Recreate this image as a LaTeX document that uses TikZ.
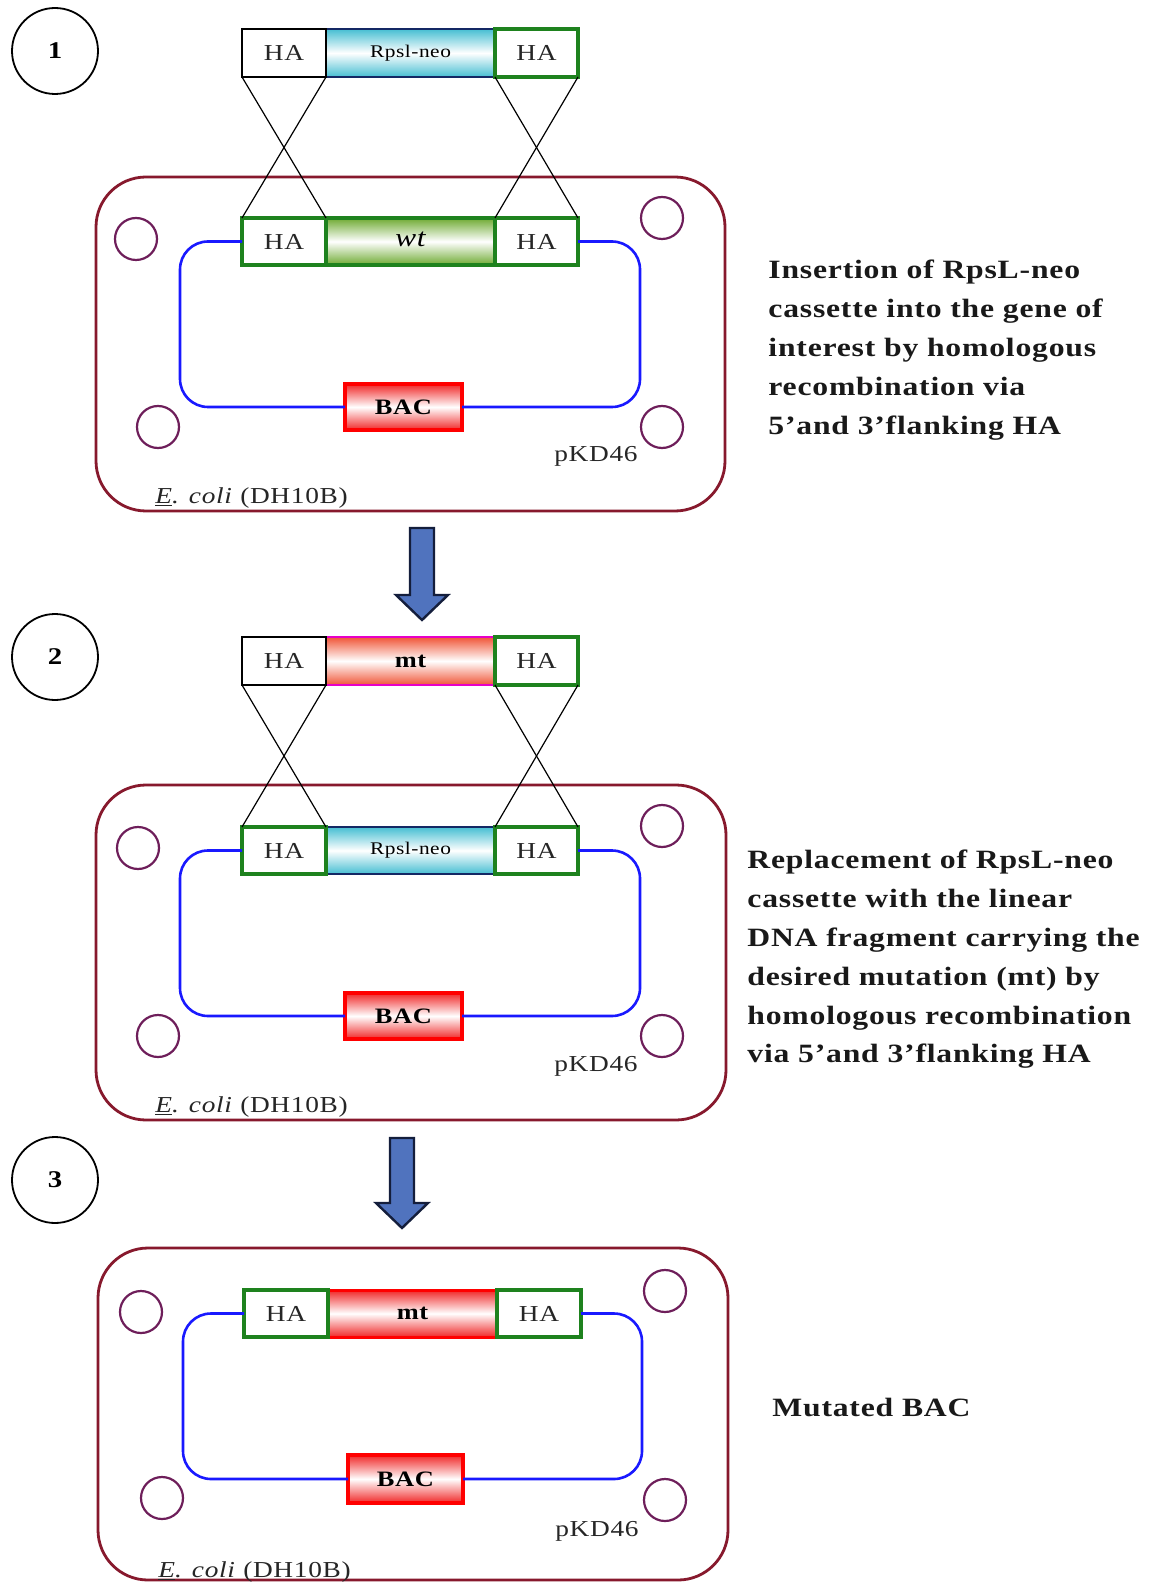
\documentclass[tikz,border=0pt]{standalone}
\usepackage{fontspec}
\setmainfont{Liberation Serif}[FakeStretch=1.2,LetterSpace=3]
\definecolor{cellred}{RGB}{135,25,45}
\definecolor{circpurple}{RGB}{110,30,90}
\definecolor{loopblue}{RGB}{25,25,255}
\definecolor{hagreen}{RGB}{30,130,30}
\definecolor{navyb}{RGB}{20,40,100}
\definecolor{cyanfill}{RGB}{70,190,210}
\definecolor{wtgreen}{RGB}{110,170,50}
\definecolor{mtorange}{RGB}{240,85,55}
\definecolor{mtmag}{RGB}{230,0,200}
\definecolor{bacred}{RGB}{255,0,0}
\definecolor{bacfill}{RGB}{240,40,40}
\definecolor{arrowfill}{RGB}{80,115,190}
\definecolor{arrowdraw}{RGB}{20,30,60}
\newcommand\downblock[4]{%
  \filldraw[blockarrow] (#1-12,#2) -- (#1+12,#2) -- (#1+12,#3) -- (#1+26,#3)
    -- (#1,#4) -- (#1-26,#3) -- (#1-12,#3) -- cycle;}
\tikzset{
  box/.style={inner sep=0pt, outer sep=0pt, minimum height=24pt},
  ha/.style={box, draw=hagreen, line width=1.6pt, fill=white, font=\fontsize{11.4}{12}\selectfont, text=black!85},
  hablack/.style={ha, draw=black, line width=1pt},
  rpsl/.style={box, draw=navyb, line width=1.3pt, top color=cyanfill, bottom color=cyanfill, middle color=white, font=\fontsize{8.9}{10}\selectfont},
  wtbox/.style={box, draw=hagreen, line width=1.6pt, top color=wtgreen, bottom color=wtgreen, middle color=white, font=\itshape\fontsize{13}{14}\selectfont},
  mtbox/.style={box, draw=mtmag, line width=1.4pt, top color=mtorange, bottom color=mtorange, middle color=white, font=\bfseries\fontsize{11}{12}\selectfont},
  mtred/.style={box, draw=bacred, line width=1.5pt, top color=bacfill, bottom color=bacfill, middle color=white, font=\bfseries\fontsize{11}{12}\selectfont},
  bac/.style={box, draw=bacred, line width=1.7pt, top color=bacfill, bottom color=bacfill, middle color=white, minimum width=58.5pt, minimum height=23pt, font=\bfseries\fontsize{11}{12}\selectfont},
  cell/.style={draw=cellred, line width=1.4pt, rounded corners=25pt, inner sep=0pt},
  smallc/.style={circle, draw=circpurple, line width=1.1pt, minimum size=21pt, inner sep=0pt},
  numc/.style={circle, draw=black, line width=0.9pt, minimum size=43pt, inner sep=0pt, font=\bfseries\fontsize{12}{13}\selectfont},
  plasmid/.style={draw=loopblue, line width=1.3pt, rounded corners=14pt},
  cross/.style={draw=black, line width=0.6pt},
  lbl/.style={inner sep=0pt, font=\fontsize{11.4}{12}\selectfont, text=black!85},
  desc/.style={inner sep=0pt, align=left, font=\bfseries\fontsize{13.2}{19.4}\selectfont, text=black!90},
  blockarrow/.style={fill=arrowfill, draw=arrowdraw, line width=1.2pt, line join=miter}
}
\begin{document}
\begin{tikzpicture}[x=0.5pt,y=-0.5pt]
\useasboundingbox[fill=white] (0,0) rectangle (1159,1582);

% ---------- step 1 ----------
\node[numc] (n1) at (55,51) {1};
\node[cell, minimum width=314.5pt, minimum height=167pt] (cell1) at (410.5,344) {};
\node[smallc] (c1a) at (136,239) {};
\node[smallc] (c1b) at (662,218) {};
\node[smallc] (c1c) at (158,427) {};
\node[smallc] (c1d) at (662,427) {};
\node[rpsl, minimum width=84.5pt] (s1mid) at (410.5,53) {Rpsl-neo};
\node[hablack, minimum width=42pt] (s1hal) at (284,53) {HA};
\node[ha, minimum width=41.5pt] (s1har) at (536.5,53) {HA};
\node[bac] (bac1) at (403.5,407) {BAC};
\node[wtbox, minimum width=84.5pt, minimum height=23.5pt] (c1mid) at (410.5,241.5) {\raisebox{2pt}{wt}};
\node[ha, minimum width=42pt, minimum height=23.5pt] (c1hal) at (284,241.5) {HA};
\node[ha, minimum width=41.5pt, minimum height=23.5pt] (c1har) at (536.5,241.5) {HA};
\draw[plasmid] (c1hal.west) -- ++(-62,0) |- (bac1.west);
\draw[plasmid] (c1har.east) -- ++(62,0) |- (bac1.east);
\draw[cross] (s1hal.south west) -- (c1hal.north east);
\draw[cross] (s1hal.south east) -- (c1hal.north west);
\draw[cross] (s1har.south west) -- (c1har.north east);
\draw[cross] (s1har.south east) -- (c1har.north west);
\node[lbl, anchor=base] (p1) at (596,462) {pKD46};
\node[lbl, anchor=base west] (e1) at (155,503) {\textit{\underline{E}. coli} (DH10B)};
\node[desc, anchor=north west] (t1) at (768,260) {Insertion of RpsL-neo\\cassette into the gene of\\interest by homologous\\recombination via\\5’and 3’flanking HA};

\downblock{422}{528}{595}{620}

% ---------- step 2 ----------
\node[numc] (n2) at (55,657) {2};
\node[cell, minimum width=315pt, minimum height=167.5pt] (cell2) at (411,952.5) {};
\node[smallc] (c2a) at (138,848) {};
\node[smallc] (c2b) at (662,826) {};
\node[smallc] (c2c) at (158,1036) {};
\node[smallc] (c2d) at (662,1036) {};
\node[mtbox, minimum width=84.5pt] (s2mid) at (410.5,661) {mt};
\node[hablack, minimum width=42pt] (s2hal) at (284,661) {HA};
\node[ha, minimum width=41.5pt] (s2har) at (536.5,661) {HA};
\node[bac] (bac2) at (403.5,1016) {BAC};
\node[rpsl, minimum width=84.5pt, minimum height=23.5pt] (c2mid) at (410.5,850.5) {Rpsl-neo};
\node[ha, minimum width=42pt, minimum height=23.5pt] (c2hal) at (284,850.5) {HA};
\node[ha, minimum width=41.5pt, minimum height=23.5pt] (c2har) at (536.5,850.5) {HA};
\draw[plasmid] (c2hal.west) -- ++(-62,0) |- (bac2.west);
\draw[plasmid] (c2har.east) -- ++(62,0) |- (bac2.east);
\draw[cross] (s2hal.south west) -- (c2hal.north east);
\draw[cross] (s2hal.south east) -- (c2hal.north west);
\draw[cross] (s2har.south west) -- (c2har.north east);
\draw[cross] (s2har.south east) -- (c2har.north west);
\node[lbl, anchor=base] (p2) at (596,1071) {pKD46};
\node[lbl, anchor=base west] (e2) at (155,1112) {\textit{\underline{E}. coli} (DH10B)};
\node[desc, anchor=north west] (t2) at (747,850) {Replacement of RpsL-neo\\cassette with the linear\\DNA fragment carrying the\\desired mutation (mt) by\\homologous recombination\\via 5’and 3’flanking HA};

\downblock{402}{1138}{1203}{1228}

% ---------- step 3 ----------
\node[numc] (n3) at (55,1180) {3};
\node[cell, minimum width=315pt, minimum height=166pt] (cell3) at (413,1414) {};
\node[smallc] (c3a) at (141,1312) {};
\node[smallc] (c3b) at (665,1291) {};
\node[smallc] (c3c) at (162,1498) {};
\node[smallc] (c3d) at (665,1500) {};
\node[bac, minimum width=57.5pt, minimum height=24pt] (bac3) at (405.5,1479) {BAC};
\node[mtred, minimum width=84.5pt, minimum height=23.5pt] (c3mid) at (412.5,1313.5) {mt};
\node[ha, minimum width=42pt, minimum height=23.5pt] (c3hal) at (286,1313.5) {HA};
\node[ha, minimum width=42pt, minimum height=23.5pt] (c3har) at (539,1313.5) {HA};
\draw[plasmid] (c3hal.west) -- ++(-61,0) |- (bac3.west);
\draw[plasmid] (c3har.east) -- ++(61,0) |- (bac3.east);
\node[lbl, anchor=base] (p3) at (597,1536) {pKD46};
\node[lbl, anchor=base west] (e3) at (158,1577) {\textit{\underline{E}. coli} (DH10B)};
\node[desc, anchor=base west] (t3) at (772,1416) {Mutated BAC};
\end{tikzpicture}
\end{document}
